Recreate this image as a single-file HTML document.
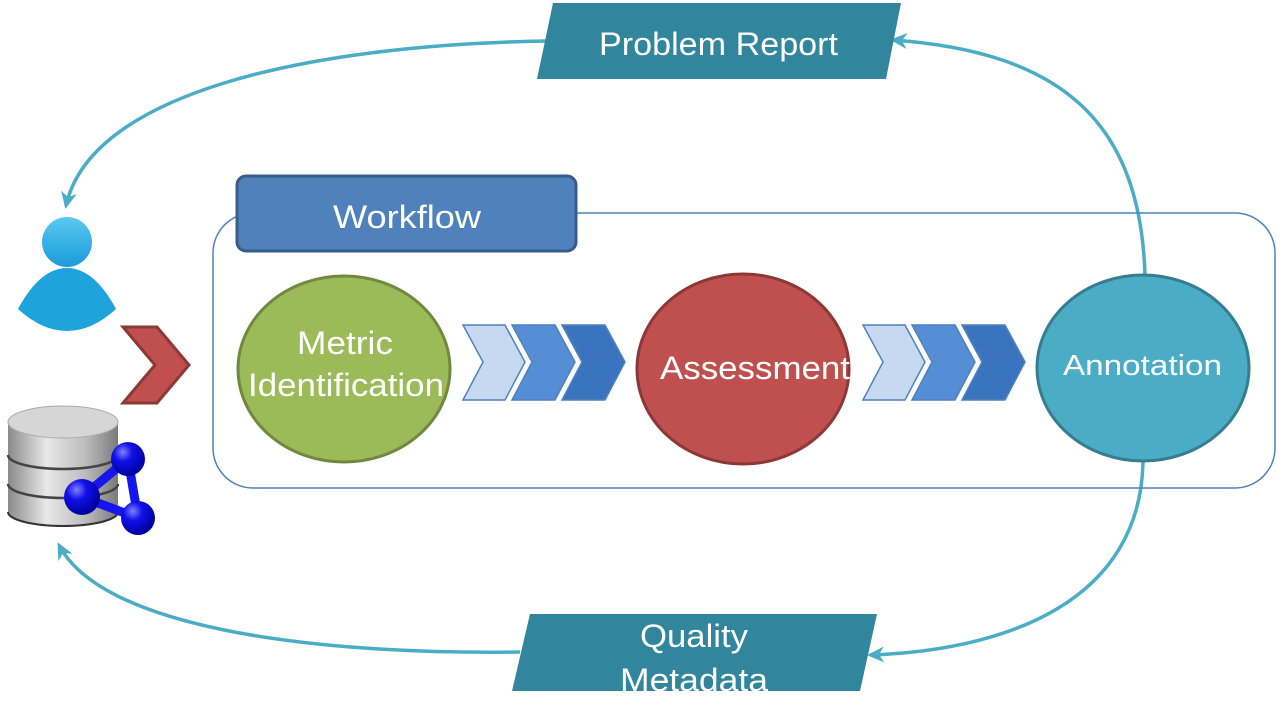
<!DOCTYPE html>
<html><head><meta charset="utf-8"><style>
html,body{margin:0;padding:0;background:#fff;width:1283px;height:704px;overflow:hidden}
svg{display:block}
text{font-family:"Liberation Sans","DejaVu Sans",sans-serif;fill:#fff}
</style></head><body>
<svg width="1283" height="704" viewBox="0 0 1283 704" xmlns="http://www.w3.org/2000/svg">
<defs>
<linearGradient id="pg" x1="0" y1="0" x2="0" y2="1"><stop offset="0" stop-color="#5bc8f2"/><stop offset="1" stop-color="#1a9bd8"/></linearGradient>
<linearGradient id="dbg" x1="0" y1="0" x2="1" y2="0"><stop offset="0" stop-color="#8a8a8a"/><stop offset="0.35" stop-color="#e8e8e8"/><stop offset="0.7" stop-color="#bdbdbd"/><stop offset="1" stop-color="#7a7a7a"/></linearGradient>
<radialGradient id="bg" cx="0.35" cy="0.3" r="0.7"><stop offset="0" stop-color="#8080ff"/><stop offset="0.4" stop-color="#1010e8"/><stop offset="1" stop-color="#0000a0"/></radialGradient>
<marker id="ah" markerWidth="18" markerHeight="18" refX="14" refY="9" orient="auto" markerUnits="userSpaceOnUse" viewBox="0 0 18 18"><path d="M0,1 L17,9 L0,17 L5,9 Z" fill="#4bacc6"/></marker>
</defs>

<g fill="none" stroke="#4bacc6" stroke-width="3.5">
<path d="M548,41 C300,45 90,95 66,206" marker-end="url(#ah)"/>
<path d="M1145,275 C1140,120 1060,52 893,40" marker-end="url(#ah)"/>
<path d="M1143,462 C1140,600 1010,650 870,655" marker-end="url(#ah)"/>
<path d="M520,652 C300,655 100,625 59,545" marker-end="url(#ah)"/>
</g>

<rect x="213" y="213" width="1062" height="275" rx="40" fill="none" stroke="#4f81bd" stroke-width="1.5"/>
<rect x="237" y="176" width="339" height="75" rx="9" fill="#4f81bd" stroke="#385d8a" stroke-width="3"/>
<text x="333" y="228" font-size="32" textLength="148" lengthAdjust="spacingAndGlyphs">Workflow</text>

<ellipse cx="344" cy="369" rx="106" ry="93" fill="#9bbb59" stroke="#71893f" stroke-width="3"/>
<text x="297" y="354" font-size="32" textLength="96" lengthAdjust="spacingAndGlyphs">Metric</text>
<text x="248" y="396" font-size="32" textLength="196" lengthAdjust="spacingAndGlyphs">Identification</text>
<ellipse cx="743" cy="369" rx="106" ry="95" fill="#c0504d" stroke="#8c3836" stroke-width="3"/>
<text x="660" y="379" font-size="32" textLength="190" lengthAdjust="spacingAndGlyphs">Assessment</text>
<ellipse cx="1143" cy="368" rx="106" ry="93" fill="#4bacc6" stroke="#357d91" stroke-width="3"/>
<text x="1063" y="375" font-size="29" textLength="159" lengthAdjust="spacingAndGlyphs">Annotation</text>

<g stroke="#4f81bd" stroke-width="1.5">
<path d="M463,325 L505,325 L525,362 L505,400 L463,400 L483,362 Z" fill="#c6d9f1"/>
<path d="M512,325 L555,325 L575,362 L555,400 L512,400 L532,362 Z" fill="#558ed5"/>
<path d="M562,325 L605,325 L625,362 L605,400 L562,400 L582,362 Z" fill="#3a74bf"/>
<path d="M863,325 L905,325 L925,362 L905,400 L863,400 L883,362 Z" fill="#c6d9f1"/>
<path d="M912,325 L955,325 L975,362 L955,400 L912,400 L932,362 Z" fill="#558ed5"/>
<path d="M962,325 L1005,325 L1025,362 L1005,400 L962,400 L982,362 Z" fill="#3a74bf"/>
</g>

<path d="M123,327 L157,327 L189,365 L157,403 L123,403 L155,365 Z" fill="#c0504d" stroke="#8c3836" stroke-width="3"/>

<path d="M553,3 L901,3 L886,79 L537,79 Z" fill="#31859c"/>
<text x="599" y="55" font-size="32" textLength="239" lengthAdjust="spacingAndGlyphs">Problem Report</text>
<path d="M530,614 L877,614 L860,691 L512,691 Z" fill="#31859c"/>
<text x="640" y="647" font-size="32" textLength="108" lengthAdjust="spacingAndGlyphs">Quality</text>
<text x="620" y="691" font-size="32" textLength="148" lengthAdjust="spacingAndGlyphs">Metadata</text>

<circle cx="67" cy="242" r="25" fill="url(#pg)"/>
<path d="M18,309 Q40,268 67,268 Q94,268 116,309 Q92,331 67,331 Q42,331 18,309 Z" fill="#1ea3dd"/>

<path d="M8,422 L8,512 A55,14 0 0 0 118,512 L118,422 Z" fill="url(#dbg)"/>
<ellipse cx="63" cy="422" rx="55" ry="16" fill="#d6d6d6" stroke="#aaa"/>
<path d="M8,455 A55,14 0 0 0 118,455" fill="none" stroke="#444" stroke-width="2.5"/>
<path d="M8,484 A55,14 0 0 0 118,484" fill="none" stroke="#444" stroke-width="2.5"/>
<path d="M8,512 A55,14 0 0 0 118,512" fill="none" stroke="#333" stroke-width="2"/>
<g stroke="#1515ee" stroke-width="9">
<line x1="128" y1="459" x2="82" y2="497"/><line x1="128" y1="459" x2="138" y2="518"/><line x1="82" y1="497" x2="138" y2="518"/>
</g>
<circle cx="128" cy="459" r="17" fill="url(#bg)"/>
<circle cx="82" cy="497" r="18" fill="url(#bg)"/>
<circle cx="138" cy="518" r="17" fill="url(#bg)"/>
</svg>
</body></html>
